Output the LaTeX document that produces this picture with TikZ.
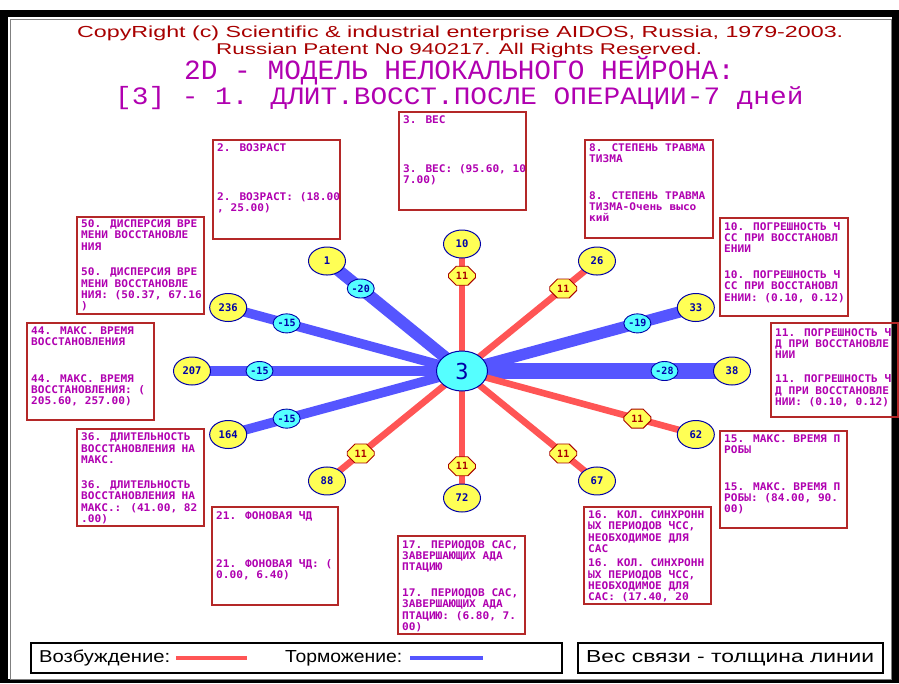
\documentclass[tikz,border=0pt]{standalone}
\usepackage{fontspec}
\usepackage{graphicx}
\usetikzlibrary{shapes.geometric,shapes.misc,calc,backgrounds}
\setmainfont{Liberation Sans}
\newfontfamily\pixfont[FakeStretch=1.06]{DejaVu Sans Mono}
\newfontfamily\numfont{DejaVu Sans Mono}
\newfontfamily\titlemono{Liberation Mono}
\newfontfamily\titlemonob[FakeStretch=1.11]{Liberation Mono}
\definecolor{tred}{RGB}{168,0,0}
\definecolor{tmag}{RGB}{176,0,176}
\definecolor{bred}{RGB}{180,40,40}
\definecolor{lred}{RGB}{255,85,85}
\definecolor{lblue}{RGB}{85,85,255}
\definecolor{nyel}{RGB}{255,255,85}
\definecolor{ncyan}{RGB}{85,255,255}
\definecolor{nodenavy}{RGB}{0,0,168}
\newcommand{\infobox}[9]{%
  \node[infobox, minimum width={(#4-#2)*1pt}, minimum height={(#5-#3)*1pt}] (#1) at ({#2},{-#3}) {};
  \node[boxtxt] (#1a) at ({#2+5},{-#6+3.8}) {#7};
  \node[boxtxt] (#1b) at ({#2+5},{-#8+3.8}) {#9};
}
\begin{document}
\begin{tikzpicture}[x=1pt,y=1pt,
  periph/.style={ellipse, draw=nodenavy, line width=1pt, fill=nyel, minimum width=37pt, minimum height=28pt, inner sep=0pt, text=nodenavy, font=\numfont\bfseries\fontsize{10.5}{10.5}\selectfont},
  centre/.style={ellipse, draw=nodenavy, line width=1pt, fill=ncyan, minimum width=51pt, minimum height=40pt, inner sep=0pt, text=nodenavy, font=\numfont\fontsize{22}{22}\selectfont},
  wexc/.style={chamfered rectangle, chamfered rectangle xsep=4pt, chamfered rectangle ysep=4pt, draw=tred, line width=0.9pt, fill=nyel, minimum width=27pt, minimum height=19pt, inner sep=0pt, text=tred, font=\numfont\bfseries\fontsize{10}{10}\selectfont},
  winh/.style={ellipse, draw=nodenavy, line width=0.9pt, fill=ncyan, minimum width=27pt, minimum height=19pt, inner sep=0pt, text=nodenavy, font=\numfont\bfseries\fontsize{10}{10}\selectfont},
  exc/.style={draw=lred, line width=6.6pt},
  inh/.style={draw=lblue, line width=#1},
  infobox/.style={draw=bred, line width=2pt, anchor=north west, inner sep=0pt},
  boxtxt/.style={anchor=north west, inner sep=0pt, align=left, text=tmag, font=\pixfont\bfseries\fontsize{10.5}{11.35}\selectfont},
  legbox/.style={draw=black, line width=1.5pt, anchor=north west, inner sep=0pt},
  plain/.style={anchor=base west, inner sep=0pt}
]
\useasboundingbox (0,0) rectangle (899,-683);
\begin{scope}[on background layer]
  \fill[white] (0,0) rectangle (899,-683);
  \fill[black] (0,-10) rectangle (899,-683);
  \fill[white] (8,-17) rectangle (892,-679);
  \draw[gray, line width=1pt] (10,-19) rectangle (891,-679);
\end{scope}

% titles
\node[plain, text=tred] (t1) at (77,-37.5) {\resizebox{766pt}{11.6pt}{CopyRight (c) Scientific \& industrial enterprise AIDOS, Russia, 1979-2003.}};
\node[plain, text=tred] (t2) at (216,-54.5) {\resizebox{486pt}{11.3pt}{Russian Patent No 940217. All Rights Reserved.}};
\node[plain, text=tmag, text depth=0pt, font=\titlemono\fontsize{27.8}{30}\selectfont] (t3) at (184,-79.5) {2D - МОДЕЛЬ НЕЛОКАЛЬНОГО НЕЙРОНА:};
\node[plain, text=tmag, text height=14pt, font=\titlemonob\fontsize{25}{27}\selectfont] (t4) at (115,-104) {[3] - 1. ДЛИТ.ВОССТ.ПОСЛЕ ОПЕРАЦИИ-7 дней};

% central and peripheral neurons
\node[centre] (c) at (462,-371) {3};
\node[periph] (n38) at ({462+270*cos(0)},{-371+127*sin(0)}) {38};
\node[periph] (n33) at ({462+270*cos(30)},{-371+127*sin(30)}) {33};
\node[periph] (n26) at ({462+270*cos(60)},{-371+127*sin(60)}) {26};
\node[periph] (n10) at ({462+270*cos(90)},{-371+127*sin(90)}) {10};
\node[periph] (n1) at ({462+270*cos(120)},{-371+127*sin(120)}) {1};
\node[periph] (n236) at ({462+270*cos(150)},{-371+127*sin(150)}) {236};
\node[periph] (n207) at ({462+270*cos(180)},{-371+127*sin(180)}) {207};
\node[periph] (n164) at ({462+270*cos(210)},{-371+127*sin(210)}) {164};
\node[periph] (n88) at ({462+270*cos(240)},{-371+127*sin(240)}) {88};
\node[periph] (n72) at ({462+270*cos(270)},{-371+127*sin(270)}) {72};
\node[periph] (n67) at ({462+270*cos(300)},{-371+127*sin(300)}) {67};
\node[periph] (n62) at ({462+270*cos(330)},{-371+127*sin(330)}) {62};

% weight labels
\node[winh] (w38) at ($(c)!0.75!(n38)$) {-28};
\node[winh] (w33) at ($(c)!0.75!(n33)$) {-19};
\node[wexc] (w26) at ($(c)!0.75!(n26)$) {11};
\node[wexc] (w10) at ($(c)!0.75!(n10)$) {11};
\node[winh] (w1) at ($(c)!0.75!(n1)$) {-20};
\node[winh] (w236) at ($(c)!0.75!(n236)$) {-15};
\node[winh] (w207) at ($(c)!0.75!(n207)$) {-15};
\node[winh] (w164) at ($(c)!0.75!(n164)$) {-15};
\node[wexc] (w88) at ($(c)!0.75!(n88)$) {11};
\node[wexc] (w72) at ($(c)!0.75!(n72)$) {11};
\node[wexc] (w67) at ($(c)!0.75!(n67)$) {11};
\node[wexc] (w62) at ($(c)!0.75!(n62)$) {11};

% connectors
\begin{scope}[on background layer]
  \draw[inh=16.8pt] (c.center) -- (n38.center);
  \draw[inh=11.4pt] (c.center) -- (n33.center);
  \draw[exc] (c.center) -- (n26.center);
  \draw[exc] (c.center) -- (n10.center);
  \draw[inh=12pt] (c.center) -- (n1.center);
  \draw[inh=9.5pt] (c.center) -- (n236.center);
  \draw[inh=9.5pt] (c.center) -- (n207.center);
  \draw[inh=9.5pt] (c.center) -- (n164.center);
  \draw[exc] (c.center) -- (n88.center);
  \draw[exc] (c.center) -- (n72.center);
  \draw[exc] (c.center) -- (n67.center);
  \draw[exc] (c.center) -- (n62.center);
\end{scope}

% info boxes
\infobox{b2}{212}{139}{339}{238}{147.7}{2. ВОЗРАСТ}{195.7}{2. ВОЗРАСТ: (18.00\\, 25.00)}
\infobox{b3}{398}{111}{525}{209}{119}{3. ВЕС}{167.7}{3. ВЕС: (95.60, 10\\7.00)}
\infobox{b8}{584}{139}{712}{237}{147.3}{8. СТЕПЕНЬ ТРАВМА\\ТИЗМА}{195}{8. СТЕПЕНЬ ТРАВМА\\ТИЗМА-Очень высо\\кий}
\infobox{b10}{719}{217}{847}{315}{225.7}{10. ПОГРЕШНОСТЬ Ч\\СС ПРИ ВОССТАНОВЛ\\ЕНИИ}{274}{10. ПОГРЕШНОСТЬ Ч\\СС ПРИ ВОССТАНОВЛ\\ЕНИИ: (0.10, 0.12)}
\infobox{b11}{770}{322}{897}{416}{331.7}{11. ПОГРЕШНОСТЬ Ч\\Д ПРИ ВОССТАНОВЛЕ\\НИИ}{378.3}{11. ПОГРЕШНОСТЬ Ч\\Д ПРИ ВОССТАНОВЛЕ\\НИИ: (0.10, 0.12)}
\infobox{b15}{719}{430}{846}{527}{438.3}{15. МАКС. ВРЕМЯ П\\РОБЫ}{486}{15. МАКС. ВРЕМЯ П\\РОБЫ: (84.00, 90.\\00)}
\infobox{b16}{583}{506}{710}{603}{514.3}{16. КОЛ. СИНХРОНН\\ЫХ ПЕРИОДОВ ЧСС,\\НЕОБХОДИМОЕ ДЛЯ\\САС}{562.7}{16. КОЛ. СИНХРОНН\\ЫХ ПЕРИОДОВ ЧСС,\\НЕОБХОДИМОЕ ДЛЯ\\САС: (17.40, 20}
\infobox{b17}{397}{535}{524}{633}{544}{17. ПЕРИОДОВ САС,\\ЗАВЕРШАЮЩИХ АДА\\ПТАЦИЮ}{592.3}{17. ПЕРИОДОВ САС,\\ЗАВЕРШАЮЩИХ АДА\\ПТАЦИЮ: (6.80, 7.\\00)}
\infobox{b21}{211}{506}{337}{604}{515}{21. ФОНОВАЯ ЧД}{562.7}{21. ФОНОВАЯ ЧД: (\\0.00, 6.40)}
\infobox{b36}{76}{428}{203}{525}{436.7}{36. ДЛИТЕЛЬНОСТЬ\\ВОССТАНОВЛЕНИЯ НА\\МАКС.}{484.3}{36. ДЛИТЕЛЬНОСТЬ\\ВОССТАНОВЛЕНИЯ НА\\МАКС.: (41.00, 82\\.00)}
\infobox{b44}{26}{322}{153}{419}{330}{44. МАКС. ВРЕМЯ\\ВОССТАНОВЛЕНИЯ}{378}{44. МАКС. ВРЕМЯ\\ВОССТАНОВЛЕНИЯ: (\\205.60, 257.00)}
\infobox{b50}{76}{216}{203}{313}{223.3}{50. ДИСПЕРСИЯ ВРЕ\\МЕНИ ВОССТАНОВЛЕ\\НИЯ}{271.7}{50. ДИСПЕРСИЯ ВРЕ\\МЕНИ ВОССТАНОВЛЕ\\НИЯ: (50.37, 67.16\\)}

% legend
\node[legbox, minimum width=531pt, minimum height=30pt] (leg1) at (30,-642) {};
\node[legbox, minimum width=305pt, minimum height=30pt] (leg2) at (577,-642) {};
\node[plain] (l1) at (39,-662.5) {\resizebox{131pt}{12.6pt}{Возбуждение:}};
\draw[lred, line width=4pt] (176,-658) -- (247,-658);
\node[plain] (l2) at (285,-662.5) {\resizebox{117pt}{12pt}{Торможение:}};
\draw[lblue, line width=4pt] (410,-658) -- (483,-658);
\node[plain] (l3) at (586,-662.5) {\resizebox{288pt}{12pt}{Вес связи - толщина линии}};
\end{tikzpicture}
\end{document}
